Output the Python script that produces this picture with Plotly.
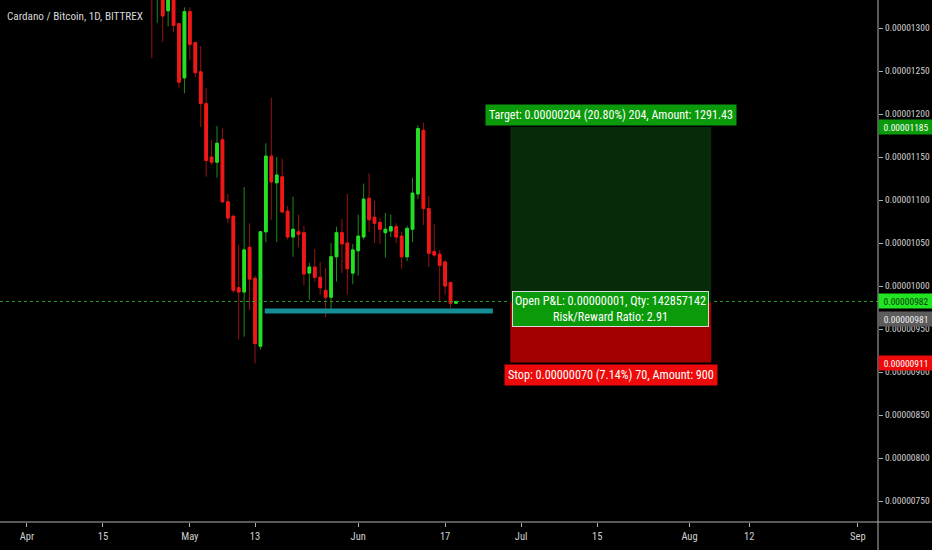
import pandas as pd
import plotly.graph_objects as go

# ---- data (prices in satoshi units, i.e. x 1e-8 BTC) ----
start_date = "2019-04-24"
opens = [1420, 1345, 1350, 1320, 1338, 1305, 1242, 1319, 1283, 1249,
         1212, 1150, 1144, 1170, 1098, 1081, 998, 993, 1045, 1009,
         930, 1063, 1151, 1120, 1127, 1087, 1057, 1063, 1062, 1015,
         1022, 1010, 995, 987, 1034, 1062, 1050, 1015, 1041, 1057,
         1102, 1080, 1074, 1062, 1064, 1069, 1058, 1034, 1066, 1107,
         1181, 1090, 1040, 1037, 1028, 1004, 980]
highs = [1440, 1395, 1360, 1352, 1342, 1306, 1324, 1324, 1284, 1279,
         1230, 1170, 1186, 1183, 1107, 1083, 1048, 1115, 1073, 1012,
         1064, 1166, 1219, 1150, 1148, 1093, 1104, 1083, 1070, 1027,
         1043, 1028, 1021, 1050, 1069, 1078, 1107, 1049, 1083, 1119,
         1131, 1099, 1079, 1085, 1083, 1073, 1063, 1070, 1126, 1187,
         1190, 1105, 1072, 1042, 1030, 1005, 983]
lows = [1265, 1306, 1284, 1302, 1295, 1230, 1224, 1263, 1243, 1185,
        1127, 1141, 1126, 1096, 1073, 992, 938, 941, 972, 910,
        926, 1051, 1077, 1051, 1085, 1054, 1034, 1045, 1001, 984,
        1005, 990, 964, 970, 1005, 1015, 990, 1002, 1012, 1054,
        1063, 1050, 1049, 1033, 1057, 1050, 1020, 1029, 1051, 1101,
        1071, 1022, 1034, 981, 990, 974, 979.5]
closes = [1370, 1380, 1314, 1345, 1303, 1237, 1319, 1281, 1248, 1212,
          1146, 1144, 1166, 1098, 1079, 995, 993, 1042, 1008, 933,
          1063, 1151, 1121, 1129, 1086, 1057, 1066, 1060, 1014, 1022,
          1010, 998, 987, 1034, 1062, 1049, 1020, 1042, 1058, 1101,
          1077, 1073, 1066, 1066, 1069, 1057, 1034, 1067, 1108, 1183,
          1090, 1038, 1036, 1024, 1000, 980, 982]

entry_price = 981
target_price = 1185
stop_price = 911
last_price = 982
support_price = 971
support_start, support_end = "2019-05-14 19:00", "2019-06-25 19:00"
pos_start, pos_end = "2019-06-29", "2019-08-05"

y_ticks = [750, 800, 850, 900, 950, 1000, 1050, 1100, 1150, 1200, 1250, 1300]
x_tick_dates = ["2019-04-01", "2019-04-15", "2019-05-01", "2019-05-13", "2019-06-01",
                "2019-06-17", "2019-07-01", "2019-07-15", "2019-08-01", "2019-08-12",
                "2019-09-01"]
x_tick_text = ["Apr", "15", "May", "13", "Jun", "17", "Jul", "15", "Aug", "12", "Sep"]

title_text = "Cardano / Bitcoin, 1D, BITTREX"
target_text = "Target: 0.00000204 (20.80%) 204, Amount: 1291.43"
pnl_text = "Open P&L: 0.00000001, Qty: 142857142<br>Risk/Reward Ratio: 2.91"
stop_text = "Stop: 0.00000070 (7.14%) 70, Amount: 900"

S = 1e-8
dates = pd.date_range(start_date, periods=len(opens), freq="D")
o = [v * S for v in opens]
h = [v * S for v in highs]
l = [v * S for v in lows]
c = [v * S for v in closes]
body_hi = [max(a, b) for a, b in zip(o, c)]
body_lo = [min(a, b) for a, b in zip(o, c)]

FONT = "Roboto Condensed, Liberation Sans Narrow, Liberation Sans, sans-serif"
UP, DN = "#25e025", "#f01818"
UPW, DNW = "#1c8c1c", "#9a1212"

fig = go.Figure()
# wicks
fig.add_trace(go.Candlestick(
    x=dates, open=o, high=h, low=l, close=c,
    increasing=dict(line=dict(color=UPW, width=1), fillcolor=UPW),
    decreasing=dict(line=dict(color=DNW, width=1), fillcolor=DNW),
    hoverinfo="skip", showlegend=False))
# bodies
fig.add_trace(go.Candlestick(
    x=dates, open=o, high=body_hi, low=body_lo, close=c,
    increasing=dict(line=dict(color=UP, width=1), fillcolor=UP),
    decreasing=dict(line=dict(color=DN, width=1), fillcolor=DN),
    hoverinfo="skip", showlegend=False))

shapes = [
    dict(type="line", xref="paper", x0=0, x1=1, yref="y", y0=last_price * S, y1=last_price * S,
         line=dict(color="#2a9e2a", width=1, dash="dot")),
    dict(type="rect", xref="x", x0=pos_start, x1=pos_end, yref="y",
         y0=entry_price * S, y1=target_price * S, fillcolor="#072a08", line=dict(width=0)),
    dict(type="rect", xref="x", x0=pos_start, x1=pos_end, yref="y",
         y0=stop_price * S, y1=entry_price * S, fillcolor="#a30000", line=dict(width=0)),
    dict(type="line", xref="x", x0=support_start, x1=support_end, yref="y",
         y0=support_price * S, y1=support_price * S, line=dict(color="#168e98", width=5)),
    dict(type="line", xref="paper", x0=1, x1=1, yref="paper", y0=-0.06, y1=1,
         line=dict(color="#b0b0b0", width=1)),
    dict(type="line", xref="paper", x0=0, x1=1.07, yref="paper", y0=0, y1=0,
         line=dict(color="#b0b0b0", width=1)),
]

mid_x = "2019-07-17 12:00"
annotations = [
    dict(xref="paper", x=0.006, yref="paper", y=0.969, xanchor="left", yanchor="middle",
         text=title_text, showarrow=False, font=dict(family=FONT, size=11.2, color="#d8d8d8")),
    dict(xref="x", x=mid_x, yref="y", y=1199.4 * S, text=target_text, showarrow=False,
         bgcolor="#0a9a0a", borderpad=3, font=dict(family=FONT, size=12, color="#ffffff")),
    dict(xref="x", x=mid_x, yref="y", y=972.7 * S, text=pnl_text, showarrow=False,
         bgcolor="#0a9a0a", bordercolor="#d8d8d8", borderwidth=1, borderpad=2,
         font=dict(family=FONT, size=12.2, color="#ffffff")),
    dict(xref="x", x=mid_x, yref="y", y=896.5 * S, text=stop_text, showarrow=False,
         bgcolor="#ee0a0a", borderpad=3, font=dict(family=FONT, size=12.2, color="#ffffff")),
]
axis_labels = [
    (target_price, 0, "#0a9a0a", "#ffffff"),
    (last_price, 0, "#22e622", "#0d3a0d"),
    (entry_price, -17, "#5c5c5c", "#eeeeee"),
    (stop_price, 0, "#ee0a0a", "#ffffff"),
]
for val, ys, bg, fg in axis_labels:
    annotations.append(dict(xref="paper", x=1, xanchor="left", yref="y", y=val * S, yshift=ys,
                            text="%.8f" % (val * S), showarrow=False, bgcolor=bg,
                            width=52, height=12, borderpad=1,
                            font=dict(family=FONT, size=9.5, color=fg)))

fig.update_layout(
    width=932, height=550,
    margin=dict(l=0, r=54, t=0, b=28),
    paper_bgcolor="#000000", plot_bgcolor="#000000",
    font=dict(family=FONT, color="#d0d0d0"),
    showlegend=False,
    shapes=shapes, annotations=annotations,
    xaxis=dict(type="date", range=["2019-03-27 01:00", "2019-09-04 17:00"],
               rangeslider=dict(visible=False), showgrid=False, zeroline=False,
               showline=False, tickvals=x_tick_dates, ticktext=x_tick_text,
               ticks="outside", ticklen=4, tickcolor="#b0b0b0",
               tickfont=dict(family=FONT, size=10.5, color="#d0d0d0")),
    yaxis=dict(side="right", range=[725.58 * S, 1332.56 * S], showgrid=False, zeroline=False,
               showline=False, tickvals=[v * S for v in y_ticks], tickformat=".8f",
               ticks="outside", ticklen=4, tickcolor="#b0b0b0",
               tickfont=dict(family=FONT, size=9.5, color="#d0d0d0")),
)

fig.write_html("out.html", config={"displayModeBar": False},
               post_script="document.body.style.margin='0';document.body.style.overflow='hidden';")
